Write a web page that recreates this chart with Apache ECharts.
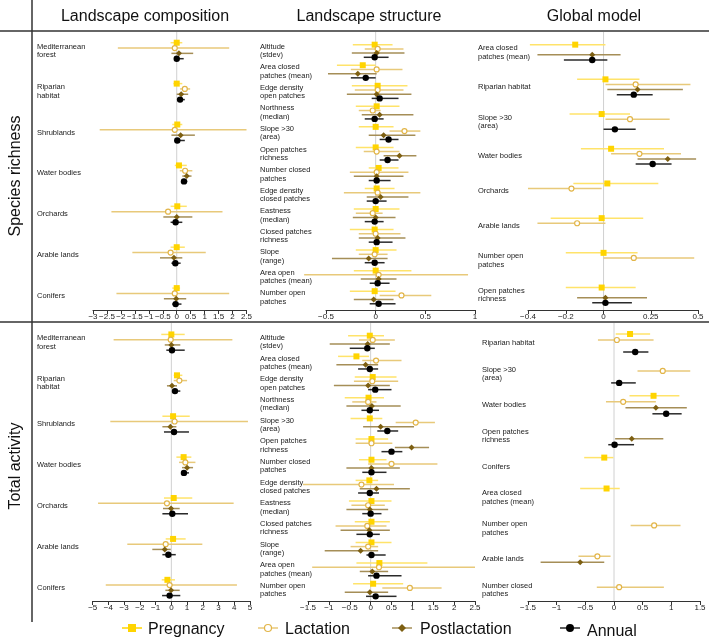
<!DOCTYPE html>
<html><head><meta charset="utf-8">
<script src="https://cdn.jsdelivr.net/npm/echarts@6/dist/echarts.min.js"></script>
<style>html,body{margin:0;padding:0;background:#fff}#c{width:709px;height:640px}</style>
</head><body><div id="c"></div>
<script>
// ---------------- DATA ----------------
const stages = ['Pregnancy', 'Lactation', 'Postlactation', 'Annual'];
const columnTitles = ['Landscape composition', 'Landscape structure', 'Global model'];
const rowTitles = ['Species richness', 'Total activity'];

const compLabels = ['Mediterranean\nforest', 'Riparian\nhabitat', 'Shrublands', 'Water bodies', 'Orchards', 'Arable lands', 'Conifers'];
const structLabels = ['Altitude\n(stdev)', 'Area closed\npatches (mean)', 'Edge density\nopen patches', 'Northness\n(median)', 'Slope >30\n(area)', 'Open patches\nrichness', 'Number closed\npatches', 'Edge density\nclosed patches', 'Eastness\n(median)', 'Closed patches\nrichness', 'Slope\n(range)', 'Area open\npatches (mean)', 'Number open\npatches'];
const srGlobalLabels = ['Area closed\npatches (mean)', 'Riparian habitat', 'Slope >30\n(area)', 'Water bodies', 'Orchards', 'Arable lands', 'Number open\npatches', 'Open patches\nrichness'];
const taGlobalLabels = ['Riparian habitat', 'Slope >30\n(area)', 'Water bodies', 'Open patches\nrichness', 'Conifers', 'Area closed\npatches (mean)', 'Number open\npatches', 'Arable lands', 'Number closed\npatches'];

// each entry: [estimate, lower, upper]
const srCompPregnancy = [[0,-0.22,0.2],[0,-0.12,0.2],[0.02,-0.16,0.2],[0.08,-0.07,0.36],[0.02,-0.22,0.36],[0,-0.22,0.29],[0,-0.16,0.12]];
const srCompLactation = [[-0.07,-2.11,1.88],[0.29,0.12,0.48],[-0.07,-2.76,2.5],[0.3,0.11,0.56],[-0.31,-2.34,1.64],[-0.22,-1.59,1.04],[-0.07,-2.16,1.88]];
const srCompPostlactation = [[0.08,-0.19,0.59],[0.16,0,0.41],[0.14,-0.19,0.65],[0.36,0.2,0.53],[0,-0.48,0.56],[-0.1,-0.6,0.2],[-0.02,-0.46,0.34]];
const srCompAnnual = [[0,-0.08,0.25],[0.12,0.02,0.29],[0.02,-0.07,0.29],[0.26,0.18,0.38],[-0.04,-0.22,0.2],[-0.05,-0.19,0.14],[-0.04,-0.16,0.17]];

const srStructPregnancy = [[-0.01,-0.23,0.17],[-0.13,-0.39,0],[0.02,-0.24,0.32],[0.01,-0.2,0.24],[0,-0.17,0.18],[0,-0.2,0.18],[0.03,-0.07,0.23],[0.01,-0.11,0.19],[0,-0.22,0.24],[-0.01,-0.26,0.18],[0,-0.2,0.21],[0,-0.22,0.36],[-0.01,-0.26,0.2]];
const srStructLactation = [[0.02,-0.11,0.28],[0.01,-0.25,0.27],[0.02,-0.21,0.28],[-0.03,-0.17,0.05],[0.29,0.14,0.45],[0.01,-0.12,0.24],[0.01,-0.26,0.33],[0.02,-0.32,0.45],[-0.03,-0.2,0.07],[0,-0.17,0.25],[-0.01,-0.17,0.12],[0.03,-0.72,0.93],[0.26,0.04,0.56]];
const srStructPostlactation = [[0.01,-0.24,0.29],[-0.18,-0.48,0.01],[0.01,-0.29,0.36],[0.04,-0.14,0.38],[0.08,-0.07,0.4],[0.24,0.08,0.41],[0.01,-0.22,0.28],[0.05,-0.09,0.33],[0,-0.23,0.2],[0.02,-0.17,0.3],[-0.07,-0.44,0.12],[0.03,-0.15,0.21],[-0.02,-0.22,0.18]];
const srStructAnnual = [[-0.01,-0.12,0.13],[-0.1,-0.25,0],[0.04,-0.04,0.23],[-0.01,-0.11,0.08],[0.13,0.04,0.23],[0.12,0.04,0.23],[0.01,-0.07,0.15],[0,-0.09,0.11],[-0.01,-0.11,0.08],[0.01,-0.07,0.17],[-0.01,-0.11,0.09],[0.02,-0.06,0.14],[0.03,-0.06,0.2]];

const srGlobalPregnancy = [[-0.15,-0.39,0.01],[0.01,-0.14,0.19],[-0.01,-0.18,0.14],[0.04,-0.12,0.32],[0.02,-0.16,0.29],[-0.01,-0.28,0.21],[0,-0.2,0.18],[-0.01,-0.2,0.17]];
const srGlobalLactation = [null,[0.17,0.01,0.46],[0.14,0.01,0.35],[0.19,0.04,0.41],[-0.17,-0.4,-0.01],[-0.14,-0.35,0.01],[0.16,0,0.48],null];
const srGlobalPostlactation = [[-0.06,-0.35,0.09],[0.18,0.02,0.42],null,[0.34,0.18,0.49],null,null,null,[0.01,-0.14,0.23]];
const srGlobalAnnual = [[-0.06,-0.21,0.02],[0.16,0.07,0.26],[0.06,0,0.17],[0.26,0.17,0.36],null,null,null,[0.01,-0.06,0.15]];

const taCompPregnancy = [[0,-0.64,0.85],[0.36,0.15,0.7],[0.11,-0.57,1.17],[0.78,0.32,1.27],[0.15,-0.47,1.33],[0.11,-0.36,0.91],[-0.25,-0.61,0.23]];
const taCompLactation = [[-0.04,-3.67,3.88],[0.51,0.15,1.0],[0.21,-3.88,4.87],[0.89,0.49,1.53],[-0.28,-4.66,3.96],[-0.36,-2.8,1.97],[-0.11,-4.17,4.17]];
const taCompPostlactation = [[0,-0.42,0.57],[0.04,-0.28,0.36],[-0.06,-0.57,0.32],[1.0,0.68,1.38],[-0.02,-0.53,0.53],[-0.42,-1.21,-0.04],[-0.02,-0.38,0.53]];
const taCompAnnual = [[0.04,-0.32,0.85],[0.23,0.04,0.57],[0.17,-0.47,1.12],[0.8,0.64,1.12],[0.06,-0.57,1.06],[-0.19,-0.57,0.28],[-0.11,-0.59,0.57]];

const taStructPregnancy = [[-0.02,-0.54,0.32],[-0.34,-0.78,-0.04],[0.05,-0.38,0.62],[-0.05,-0.62,0.32],[-0.02,-0.48,0.28],[0.02,-0.36,0.42],[0.02,-0.28,0.38],[-0.03,-0.36,0.18],[0.02,-0.52,0.5],[0.02,-0.38,0.46],[0.02,-0.36,0.5],[0.21,-0.34,1.36],[0.06,-0.42,0.78]];
const taStructLactation = [[0.05,-0.28,0.58],[0.13,-0.2,0.74],[0.04,-0.4,0.66],[-0.06,-0.44,0.14],[1.08,0.6,1.54],[0.02,-0.36,0.52],[0.5,-0.06,1.6],[-0.22,-1.62,0.56],[-0.06,-0.46,0.34],[-0.08,-0.84,0.38],[-0.06,-0.48,0.18],[0.2,-1.4,2.5],[0.94,0.28,1.7]];
const taStructPostlactation = [[-0.07,-0.98,0.46],[-0.12,-0.82,0.18],[-0.06,-0.88,0.46],[0.03,-0.58,0.72],[0.24,-0.18,1.04],[0.98,0.58,1.4],[0.02,-0.58,0.7],[0.14,-0.26,0.94],[-0.02,-0.58,0.42],[-0.03,-0.72,0.46],[-0.24,-1.1,0.18],[0.04,-0.26,0.42],[-0.02,-0.62,0.42]];
const taStructAnnual = [[-0.08,-0.5,0.1],[-0.02,-0.3,0.18],[0.11,-0.06,0.5],[-0.02,-0.22,0.2],[0.4,0.16,0.66],[0.5,0.26,0.76],[0.02,-0.2,0.38],[-0.02,-0.3,0.2],[0,-0.2,0.26],[-0.02,-0.34,0.22],[0.02,-0.1,0.36],[0.14,-0.06,0.74],[0.12,-0.11,0.62]];

const taGlobalPregnancy = [[0.28,0.03,0.63],null,[0.69,0.27,1.14],null,[-0.17,-0.52,-0.01],[-0.13,-0.59,0.1],null,null,null];
const taGlobalLactation = [[0.05,-0.28,0.69],[0.85,0.41,1.33],[0.16,-0.14,0.73],null,null,null,[0.7,0.29,1.16],[-0.29,-0.62,-0.06],[0.09,-0.3,0.87]];
const taGlobalPostlactation = [null,null,[0.73,0.2,1.27],[0.31,0.02,0.86],null,null,null,[-0.59,-1.28,-0.17],null];
const taGlobalAnnual = [[0.37,0.16,0.6],[0.09,-0.05,0.38],[0.91,0.67,1.18],[0.01,-0.1,0.35],null,null,null,null,null];

// x-axis tick labels
const srCompTicks = [-3,-2.5,-2,-1.5,-1,-0.5,0,0.5,1,1.5,2,2.5];
const srStructTicks = [-0.5,0,0.5,1];
const srGlobalTicks = [-0.4,-0.2,0,0.25,0.5];
const taCompTicks = [-5,-4,-3,-2,-1,0,1,2,3,4,5];
const taStructTicks = [-1.5,-1,-0.5,0,0.5,1,1.5,2,2.5];
const taGlobalTicks = [-1.5,-1,-0.5,0,0.5,1,1.5];

// ---------------- LAYOUT / STYLE ----------------
const FONT = '"Liberation Sans", Arial, Helvetica, sans-serif';
const markerColors = ['#FFD400', '#E2B548', '#7D5F12', '#000000'];
const lineColors = ['#FFE36A', '#E8C97A', '#A58E57', '#2a2a2a'];

const panels = [
  {labels: compLabels, data: [srCompPregnancy, srCompLactation, srCompPostlactation, srCompAnnual], ticks: srCompTicks,
   left: 93, right: 246.5, top: 32, bottom: 310, c0: 50.7, gs: 40.9, rs: 5.33, labelX: 37},
  {labels: structLabels, data: [srStructPregnancy, srStructLactation, srStructPostlactation, srStructAnnual], ticks: srStructTicks,
   left: 326, right: 475, top: 32, bottom: 310, c0: 51, gs: 20.54, rs: 4.2, labelX: 260},
  {labels: srGlobalLabels, data: [srGlobalPregnancy, srGlobalLactation, srGlobalPostlactation, srGlobalAnnual], ticks: srGlobalTicks,
   left: 528, right: 698, top: 32, bottom: 310, c0: 52.3, gs: 34.7, rs: 5.1, labelX: 478},
  {labels: compLabels, data: [taCompPregnancy, taCompLactation, taCompPostlactation, taCompAnnual], ticks: taCompTicks,
   left: 92.7, right: 250, top: 323, bottom: 601, c0: 342.3, gs: 40.9, rs: 5.25, labelX: 37},
  {labels: structLabels, data: [taStructPregnancy, taStructLactation, taStructPostlactation, taStructAnnual], ticks: taStructTicks,
   left: 308, right: 475, top: 323, bottom: 601, c0: 342, gs: 20.67, rs: 4.2, labelX: 260},
  {labels: taGlobalLabels, data: [taGlobalPregnancy, taGlobalLactation, taGlobalPostlactation, taGlobalAnnual], ticks: taGlobalTicks,
   left: 528, right: 700, top: 323, bottom: 601, c0: 343, gs: 30.9, rs: 6, labelX: 482}
];

function fmtTick(v) { return String(v).replace('-', '\u2212'); }

function markerShape(s, x, y) {
  if (s === 0) return {type: 'rect', shape: {x: x - 3, y: y - 3, width: 6, height: 6}, style: {fill: markerColors[0]}};
  if (s === 1) return {type: 'circle', shape: {cx: x, cy: y, r: 2.5}, style: {fill: '#fff', stroke: markerColors[1], lineWidth: 1.2}};
  if (s === 2) return {type: 'polygon', shape: {points: [[x, y - 3], [x + 3, y], [x, y + 3], [x - 3, y]]}, style: {fill: markerColors[2]}};
  return {type: 'circle', shape: {cx: x, cy: y, r: 3.2}, style: {fill: markerColors[3]}};
}

function makeRender(s) {
  return function (params, api) {
    const y = api.value(0), est = api.value(1), lo = api.value(2), hi = api.value(3);
    const pl = api.coord([lo, y]), ph = api.coord([hi, y]), pe = api.coord([est, y]);
    return {type: 'group', children: [
      {type: 'line', shape: {x1: pl[0], y1: pl[1], x2: ph[0], y2: ph[1]}, style: {stroke: lineColors[s], lineWidth: 1.5}},
      markerShape(s, pe[0], pe[1])
    ]};
  };
}

const grid = [], xAxis = [], yAxis = [], series = [];
panels.forEach((p, pi) => {
  const yMin = (p.top - p.c0) / p.gs, yMax = (p.bottom - p.c0) / p.gs, r = p.rs / p.gs;
  grid.push({left: p.left, top: p.top, width: p.right - p.left, height: p.bottom - p.top, containLabel: false});
  xAxis.push({
    type: 'value', gridIndex: pi, position: 'bottom', min: p.ticks[0], max: p.ticks[p.ticks.length - 1],
    splitLine: {show: false},
    axisLine: {show: true, onZero: false, lineStyle: {color: '#333', width: 1}},
    axisTick: {show: true, customValues: p.ticks, length: 4, lineStyle: {color: '#333', width: 1}},
    axisLabel: {customValues: p.ticks, formatter: fmtTick, fontSize: 8, margin: 3, color: '#222', fontFamily: FONT}
  });
  yAxis.push({
    type: 'value', gridIndex: pi, inverse: true, min: yMin, max: yMax,
    splitLine: {show: false}, axisLine: {show: false, onZero: false}, axisTick: {show: false},
    axisLabel: {
      customValues: p.labels.map((_, i) => i),
      formatter: v => p.labels[Math.round(v)] || '',
      align: 'left', margin: p.left - p.labelX, fontSize: 7.5, lineHeight: 8.4, color: '#1a1a1a', fontFamily: FONT
    }
  });
  series.push({
    type: 'line', xAxisIndex: pi, yAxisIndex: pi, data: [[0, yMin], [0, yMax]], symbol: 'none', silent: true,
    lineStyle: {color: '#d0d0d0', width: 1}, z: 1, animation: false
  });
  p.data.forEach((arr, s) => {
    const rows = [];
    arr.forEach((v, g) => { if (v) rows.push([g + (s - 1.5) * r, v[0], v[1], v[2]]); });
    series.push({
      type: 'custom', name: stages[s], xAxisIndex: pi, yAxisIndex: pi, data: rows,
      encode: {x: [1, 2, 3], y: 0}, renderItem: makeRender(s), z: 2 + s, animation: false, clip: false
    });
  });
});

// frame, titles, legend
const graphic = [
  {type: 'line', shape: {x1: 32, y1: 0, x2: 32, y2: 622}, style: {stroke: '#333', lineWidth: 1.5}},
  {type: 'line', shape: {x1: 0, y1: 31, x2: 709, y2: 31}, style: {stroke: '#333', lineWidth: 1.5}},
  {type: 'line', shape: {x1: 0, y1: 322, x2: 709, y2: 322}, style: {stroke: '#333', lineWidth: 1.5}}
];
const titleX = [145, 369, 594];
columnTitles.forEach((t, i) => graphic.push({type: 'text', x: titleX[i], y: 17,
  style: {text: t, fontSize: 16, fontFamily: FONT, fill: '#111', align: 'center', verticalAlign: 'middle'}}));
const rowY = [176, 466];
rowTitles.forEach((t, i) => graphic.push({type: 'text', x: 16, y: rowY[i], rotation: Math.PI / 2,
  style: {text: t, fontSize: 16, fontFamily: FONT, fill: '#111', align: 'center', verticalAlign: 'middle'}}));

const legX = [132, 268, 402, 570];
const legTextX = [148, 285, 420, 587];
stages.forEach((name, s) => {
  const cy = 628;
  graphic.push({type: 'line', shape: {x1: legX[s] - 10, y1: cy, x2: legX[s] + 10, y2: cy}, style: {stroke: s === 0 ? markerColors[0] : lineColors[s], lineWidth: 1.5}});
  const m = markerShape(s, legX[s], cy);
  if (m.type === 'rect') m.shape = {x: legX[s] - 4, y: cy - 4, width: 8, height: 8};
  if (m.type === 'circle') m.shape.r = s === 1 ? 3.5 : 4;
  if (m.type === 'polygon') m.shape.points = [[legX[s], cy - 4], [legX[s] + 4, cy], [legX[s], cy + 4], [legX[s] - 4, cy]];
  graphic.push(m);
  graphic.push({type: 'text', x: legTextX[s], y: s === 3 ? 632 : 630,
    style: {text: name, fontSize: 16, fontFamily: FONT, fill: '#111', align: 'left', verticalAlign: 'middle'}});
});

const chart = echarts.init(document.getElementById('c'), null, {renderer: 'canvas'});
chart.setOption({animation: false, grid, xAxis, yAxis, series, graphic});
</script>
</body></html>
